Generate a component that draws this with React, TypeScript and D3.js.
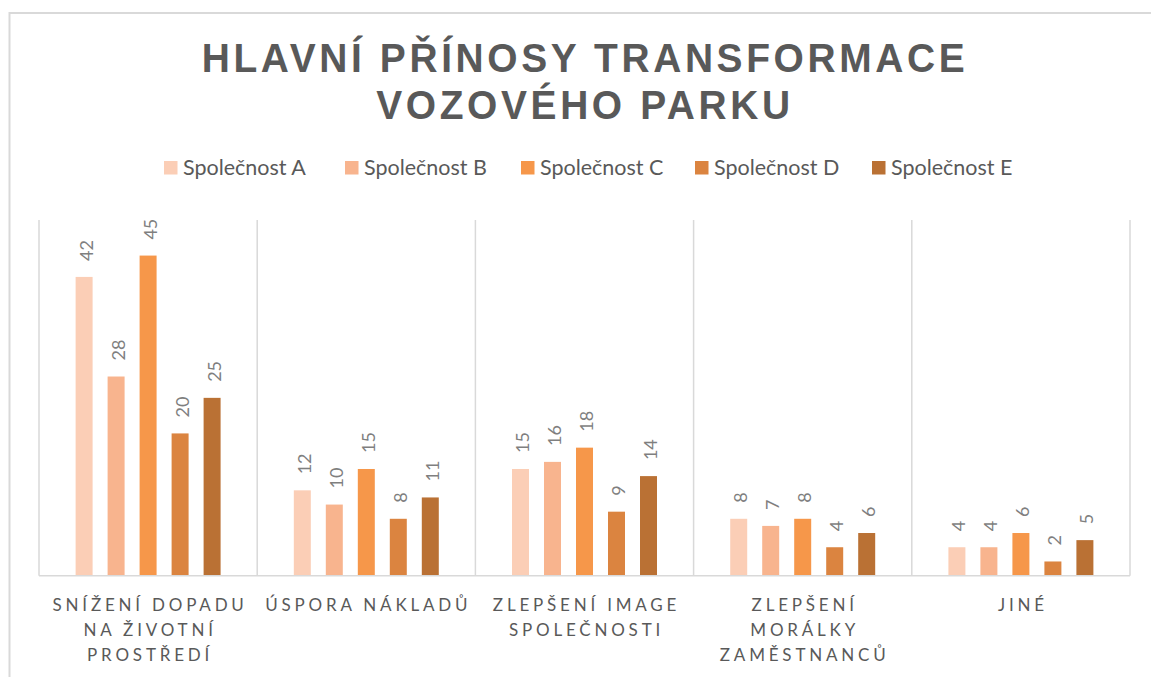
import React from "react";
import * as d3 from "d3";

const categories: string[][] = [
  ["SNÍŽENÍ DOPADU", "NA ŽIVOTNÍ", "PROSTŘEDÍ"],
  ["ÚSPORA NÁKLADŮ"],
  ["ZLEPŠENÍ IMAGE", "SPOLEČNOSTI"],
  ["ZLEPŠENÍ", "MORÁLKY", "ZAMĚSTNANCŮ"],
  ["JINÉ"],
];
const seriesNames = ["Společnost A", "Společnost B", "Společnost C", "Společnost D", "Společnost E"];
const seriesA = [42, 12, 15, 8, 4];
const seriesB = [28, 10, 16, 7, 4];
const seriesC = [45, 15, 18, 8, 6];
const seriesD = [20, 8, 9, 4, 2];
const seriesE = [25, 11, 14, 6, 5];
const seriesValues = [seriesA, seriesB, seriesC, seriesD, seriesE];
const colors = ["#FBCEB6", "#F8B48E", "#F6974A", "#DB8440", "#BA7134"];
const titleLines = ["HLAVNÍ PŘÍNOSY TRANSFORMACE", "VOZOVÉHO PARKU"];

export default function App() {
  const W = 1151, H = 677;
  const left = 39, right = 1130, top = 220, bottom = 575.7;
  const x0 = d3.scaleBand<number>().domain(d3.range(categories.length)).range([left, right]).padding(0);
  const x1 = d3
    .scaleBand<number>()
    .domain(d3.range(seriesNames.length))
    .range([0, x0.bandwidth()])
    .paddingInner(0.469)
    .paddingOuter(1.144);
  const y = d3.scaleLinear().domain([0, 50]).range([bottom, top]);

  const legendX = [164, 345, 521, 695, 872];
  const font = "Lato, 'Open Sans', sans-serif";

  return (
    <svg width={W} height={H} style={{ position: "absolute", left: 0, top: 0, background: "#fff" }}>
      <rect x={9.5} y={13} width={1200} height={800} fill="#fff" stroke="#D9D9D9" strokeWidth={2} />
      {titleLines.map((t, i) => (
        <text
          key={i}
          transform={`translate(585,${71.5 + i * 47}) scale(0.95,1)`}
          textAnchor="middle"
          fontFamily="'Liberation Sans', Arial, sans-serif"
          fontWeight="bold"
          fontSize={41}
          letterSpacing={3.8}
          fill="#595959"
        >
          {t}
        </text>
      ))}
      {seriesNames.map((s, i) => (
        <g key={s}>
          <rect x={legendX[i]} y={161} width={13.5} height={13.5} fill={colors[i]} />
          <text x={legendX[i] + 19} y={174.5} fontFamily={font} fontSize={21.5} fill="#595959">
            {s}
          </text>
        </g>
      ))}
      {d3.range(categories.length + 1).map((i) => {
        const xx = i < categories.length ? (x0(i) as number) : right;
        return <line key={i} x1={xx} x2={xx} y1={top} y2={bottom} stroke="#D9D9D9" strokeWidth={1.5} />;
      })}
      {seriesValues.map((vals, si) =>
        vals.map((v, ci) => {
          const bx = (x0(ci) as number) + (x1(si) as number);
          const bw = x1.bandwidth();
          const by = y(v);
          const cx = bx + bw / 2;
          return (
            <g key={`${si}-${ci}`}>
              <rect x={bx} y={by} width={bw} height={bottom - by} fill={colors[si]} />
              <text
                transform={`translate(${cx + 8.5},${by - 16}) rotate(-90)`}
                fontFamily={font}
                fontSize={18}
                fill="#7F7F7F"
              >
                {v}
              </text>
            </g>
          );
        })
      )}
      <line x1={left} x2={right} y1={bottom} y2={bottom} stroke="#D9D9D9" strokeWidth={1.5} />
      {categories.map((lines, ci) => {
        const cx = (x0(ci) as number) + x0.bandwidth() / 2;
        return lines.map((l, li) => (
          <text
            key={`${ci}-${li}`}
            x={cx + 2}
            y={611 + li * 25}
            textAnchor="middle"
            fontFamily={font}
            fontSize={17}
            letterSpacing={3.8}
            fill="#595959"
          >
            {l}
          </text>
        ));
      })}
    </svg>
  );
}
